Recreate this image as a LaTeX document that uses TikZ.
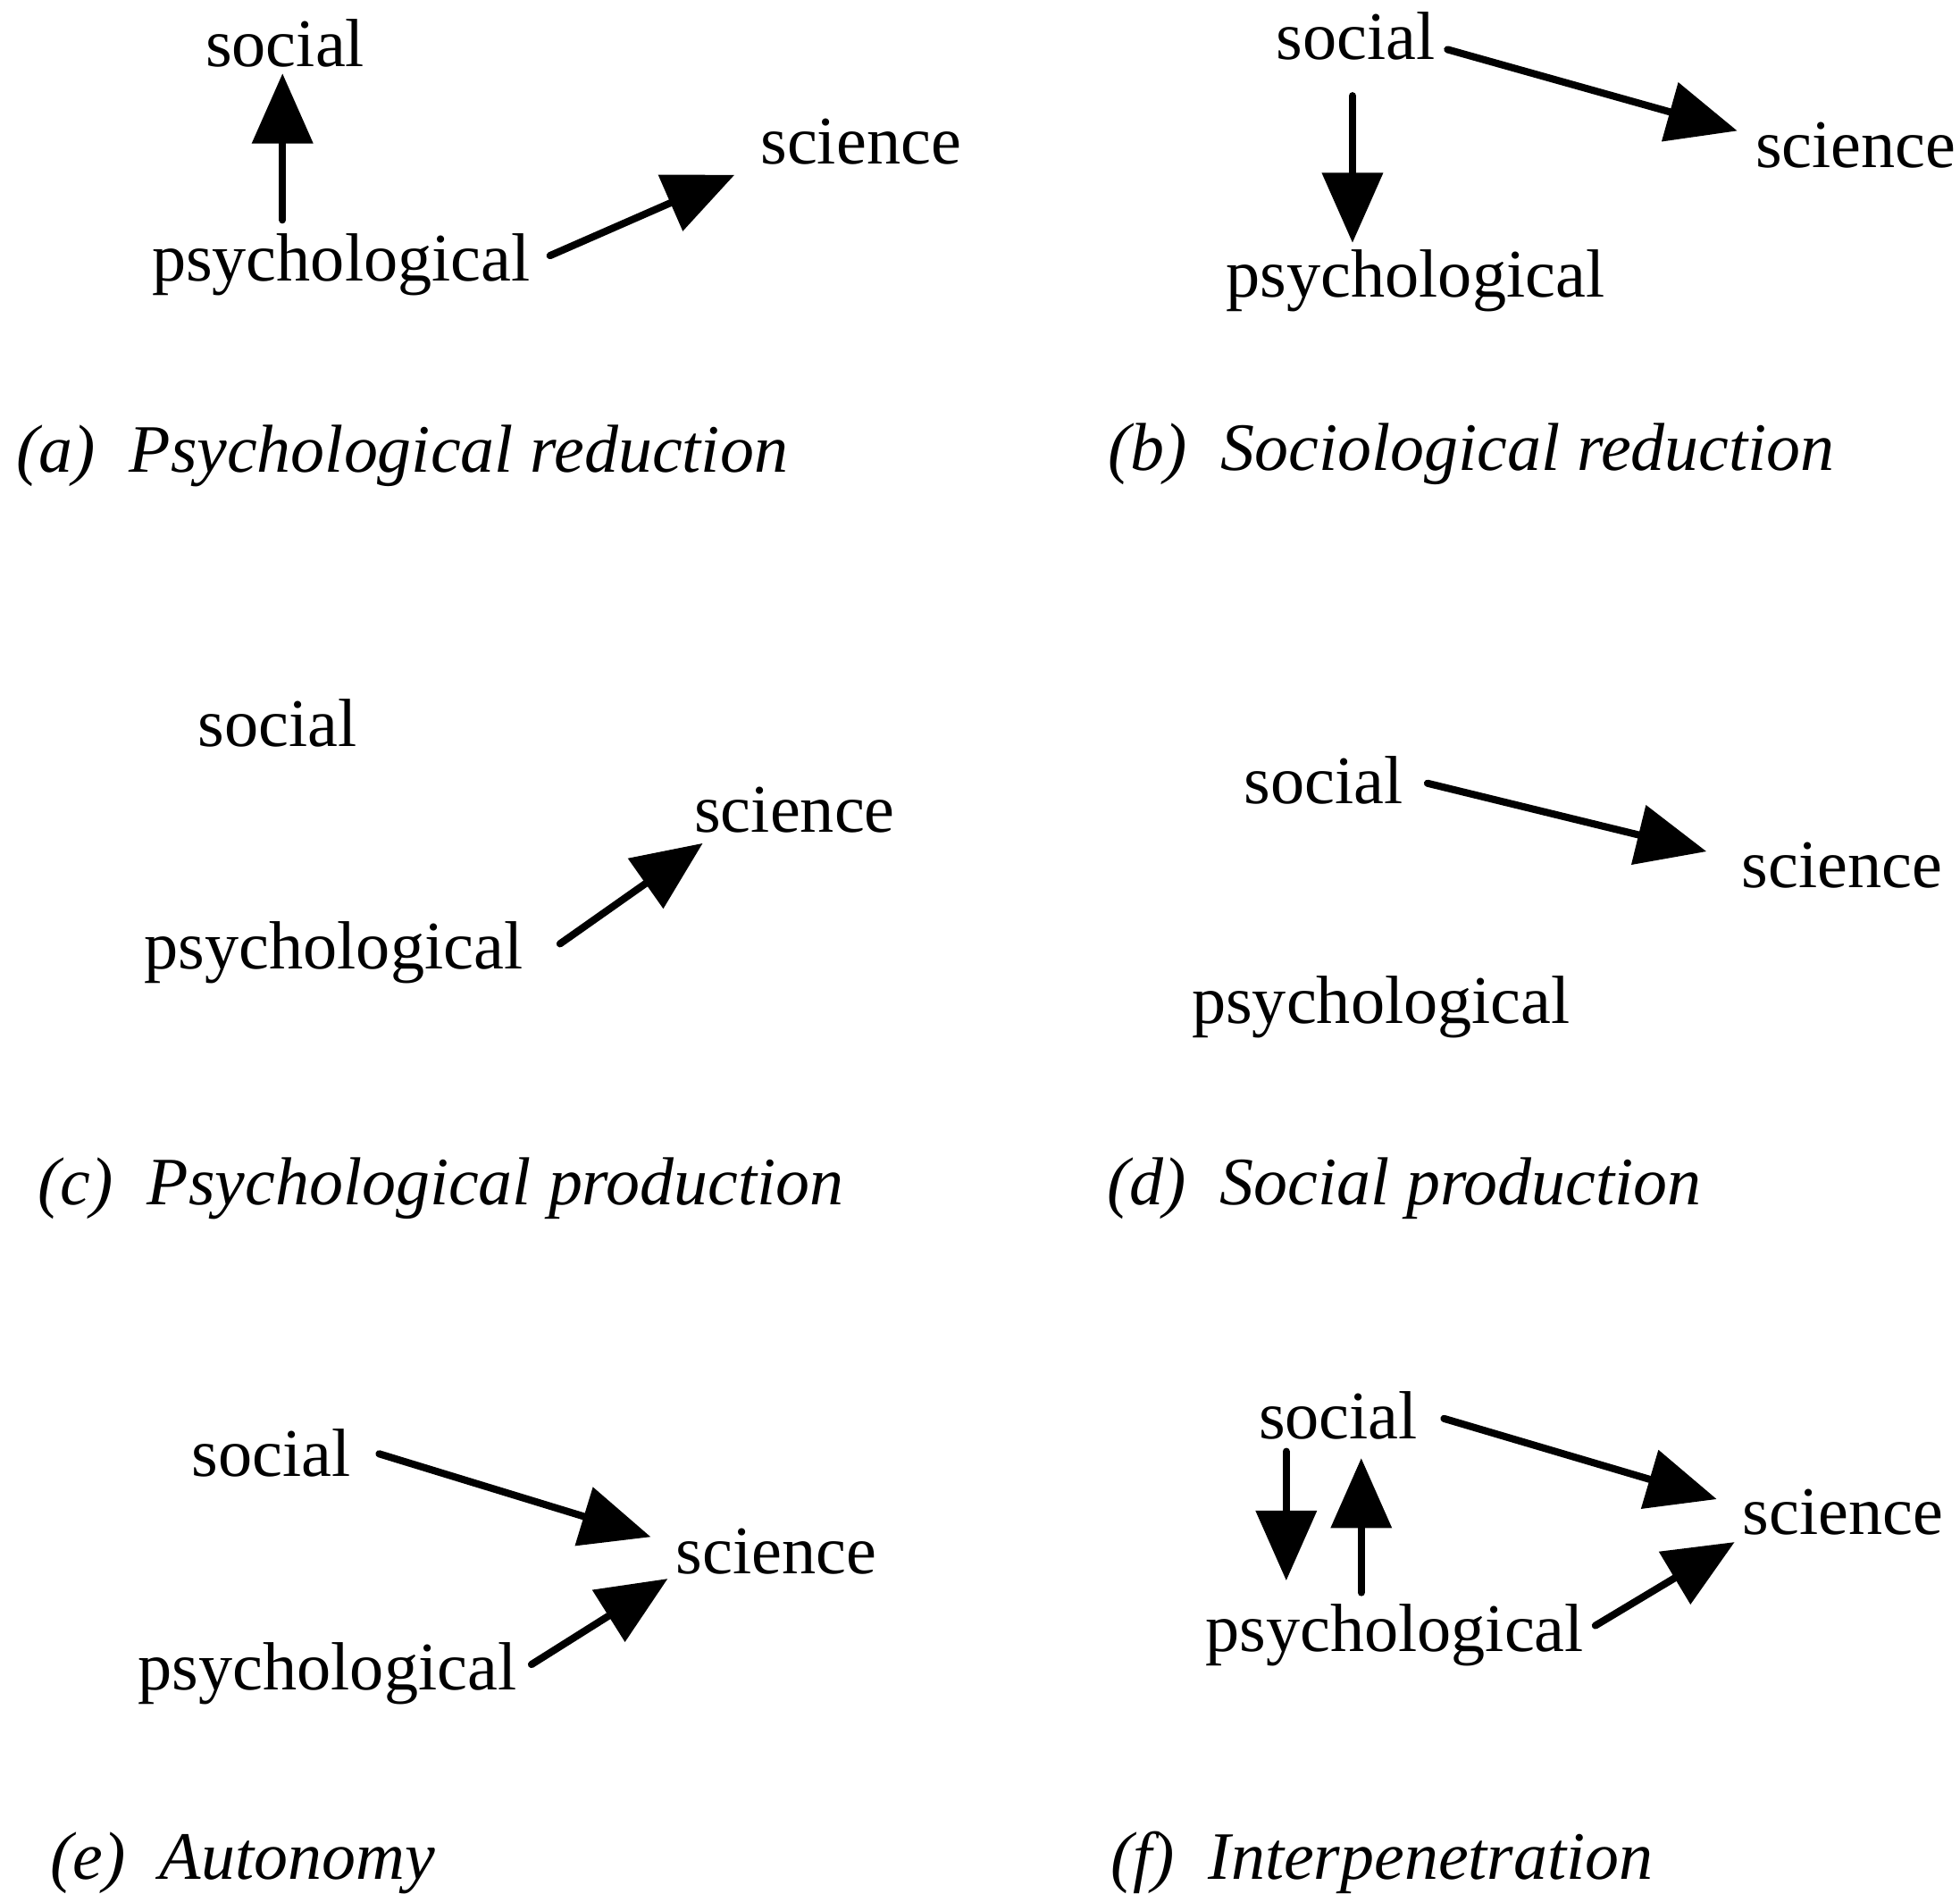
\documentclass[tikz,border=0pt]{standalone}
\usepackage{fontspec}
\setmainfont{Liberation Serif}
\usetikzlibrary{arrows.meta,calc}
\begin{document}
\begin{tikzpicture}[x=0.013992cm,y=-0.013992cm,
  lbl/.style={inner sep=0pt,anchor=base west,font=\fontsize{21.7}{26}\selectfont},
  captxt/.style={inner sep=0pt,anchor=base west,font=\fontsize{21.6}{26}\selectfont\itshape},
  arr/.style={line width=2.3pt,line cap=round,-{Triangle[length=0.78cm,width=0.69cm,line width=0pt]}}]
\useasboundingbox (0,0) rectangle (1568,1515);
% (a)
\node[lbl] (socA) at (164,53.6) {social};
\node[lbl] (sciA) at (608,131.5) {science};
\node[lbl] (psyA) at (121,224.5) {psychological};
\node[captxt] (capA) at (12.5,377.5) {(a)\hspace{0.5em}Psychological reduction};
\draw[arr] ($(psyA.base west)+(105,-48.5)$) -- ($(socA.base west)+(62,5.4)$);
\draw[arr] ($(psyA.base west)+(319,-20)$) -- ($(sciA.base west)+(-20.6,8.5)$);
% (b)
\node[lbl] (socB) at (1020.6,47.2) {social};
\node[lbl] (sciB) at (1404,134) {science};
\node[lbl] (psyB) at (980.5,237.4) {psychological};
\node[captxt] (capB) at (886,376.5) {(b)\hspace{0.5em}Sociological reduction};
\draw[arr] ($(socB.base west)+(137.4,-7.6)$) -- ($(sciB.base west)+(-14.4,-29.4)$);
\draw[arr] ($(socB.base west)+(61.4,29.4)$) -- ($(psyB.base west)+(101.5,-43.4)$);
% (c)
\node[lbl] (socC) at (158,597.4) {social};
\node[lbl] (sciC) at (555,666) {science};
\node[lbl] (psyC) at (115,775.4) {psychological};
\node[captxt] (capC) at (30,963.6) {(c)\hspace{0.5em}Psychological production};
\draw[arr] ($(psyC.base west)+(333,-20.4)$) -- ($(sciC.base west)+(7,8.7)$);
% (d)
\node[lbl] (socD) at (995,642.6) {social};
\node[lbl] (sciD) at (1393,709.7) {science};
\node[lbl] (psyD) at (953,819) {psychological};
\node[captxt] (capD) at (885,963.6) {(d)\hspace{0.5em}Social production};
\draw[arr] ($(socD.base west)+(147,-16)$) -- ($(sciD.base west)+(-28,-28.6)$);
% (e)
\node[lbl] (socE) at (153,1180.8) {social};
\node[lbl] (sciE) at (540.5,1258.6) {science};
\node[lbl] (psyE) at (110,1351.8) {psychological};
\node[captxt] (capE) at (40,1503) {(e)\hspace{0.5em}Autonomy};
\draw[arr] ($(socE.base west)+(150.3,-17.8)$) -- ($(sciE.base west)+(-20.1,-29.2)$);
\draw[arr] ($(psyE.base west)+(315.2,-20.3)$) -- ($(sciE.base west)+(-6.5,4.4)$);
% (f)
\node[lbl] (socF) at (1006.5,1151.2) {social};
\node[lbl] (sciF) at (1393.7,1227.5) {science};
\node[lbl] (psyF) at (963.8,1320.8) {psychological};
\node[captxt] (capF) at (888,1503) {(f)\hspace{0.5em}Interpenetration};
\draw[arr] ($(socF.base west)+(148.7,-16.4)$) -- ($(sciF.base west)+(-20.5,-28.3)$);
\draw[arr] ($(socF.base west)+(22.5,9.9)$) -- ($(psyF.base west)+(65.2,-56.6)$);
\draw[arr] ($(psyF.base west)+(125.2,-46.8)$) -- ($(socF.base west)+(82.5,15.5)$);
\draw[arr] ($(psyF.base west)+(312.5,-20.4)$) -- ($(sciF.base west)+(-6.2,6.2)$);
\end{tikzpicture}
\end{document}
